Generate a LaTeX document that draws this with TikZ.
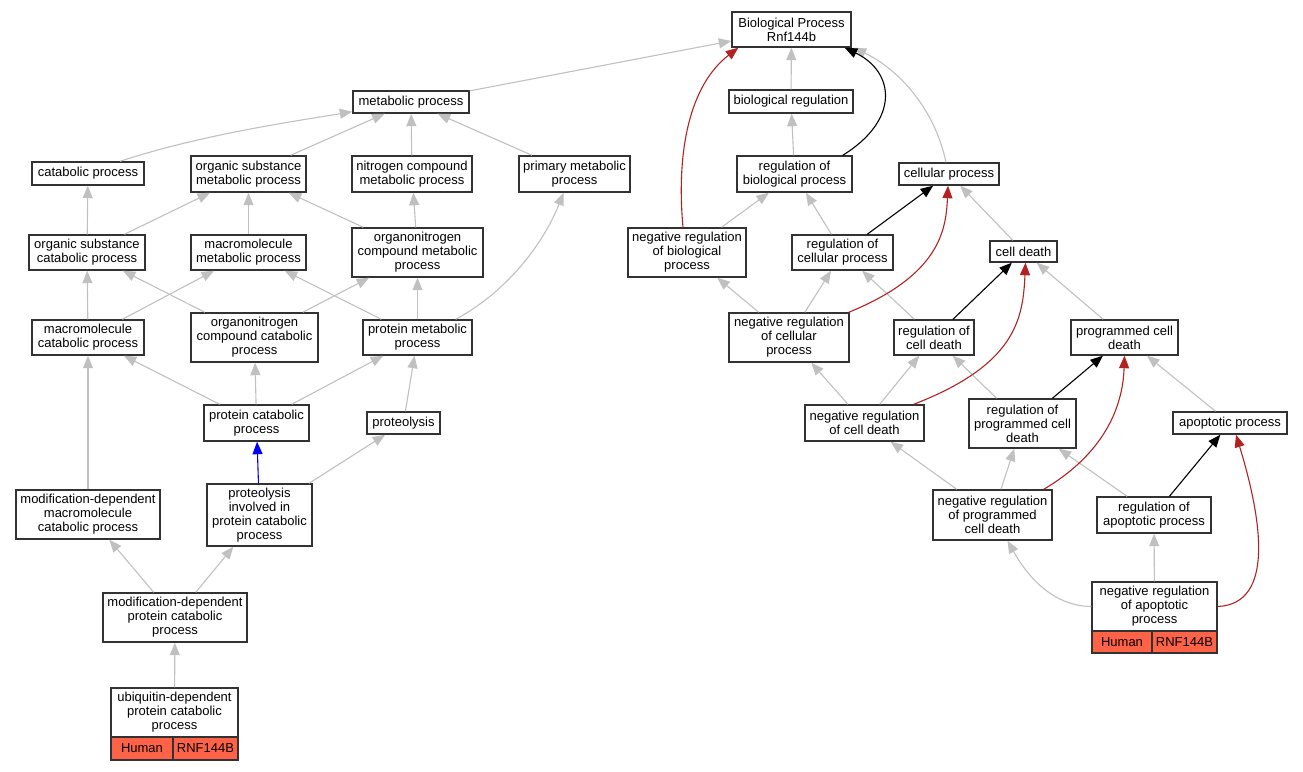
\documentclass[tikz,border=0pt]{standalone}
\usepackage{fontspec}
\setmainfont{Liberation Sans}
\usetikzlibrary{arrows.meta,calc}
\definecolor{edgegray}{RGB}{192,192,192}
\definecolor{fire}{RGB}{178,34,34}
\definecolor{tomatoc}{RGB}{255,99,71}
\definecolor{boxline}{RGB}{50,50,50}
\newcommand{\gobox}[7][]{%
  \pgfmathsetmacro{\gbw}{#5-#3}\pgfmathsetmacro{\gbh}{#6-#4}%
  \node[gobox,#1,minimum width=\gbw pt,minimum height=\gbh pt] (#2) at ({(#3+#5)/2},{(#4+#6)/2}) {#7};}
\begin{document}
\begin{tikzpicture}[x=1pt,y=-1pt,
  gobox/.style={draw=boxline,line width=1.4pt,fill=white,inner sep=0pt,align=center,
    font=\fontsize{13}{14}\selectfont},
  genecell/.style={fill=tomatoc},
  e/.style={line width=1.1pt,-{Triangle[length=12.5pt,width=10pt]}},
  gr/.style={e,draw=edgegray,-{Triangle[length=12.5pt,width=10pt,fill=edgegray]}},
  bl/.style={e,draw=black},
  rd/.style={e,draw=fire,-{Triangle[length=12.5pt,width=10pt,fill=fire]}},
  bu/.style={e,draw=blue,-{Triangle[length=12.5pt,width=10pt,fill=blue]}}]
\useasboundingbox (0,0) rectangle (1303,771);
% nodes
\gobox{bp}{732}{12}{851}{47}{Biological Process\\Rnf144b}
\gobox{met}{353}{91}{469}{113}{metabolic process}
\gobox{breg}{729}{90}{853}{113}{biological regulation}
\gobox{cat}{32}{162}{144}{185}{catabolic process}
\gobox{osm}{191}{156}{306}{192}{organic substance\\metabolic process}
\gobox{ncm}{352}{156}{472}{192}{nitrogen compound\\metabolic process}
\gobox{pmet}{519}{156}{630}{192}{primary metabolic\\process}
\gobox{rbp}{737}{156}{852}{192}{regulation of\\biological process}
\gobox{cp}{899}{163}{999}{185}{cellular process}
\gobox{osc}{29}{235}{145}{270}{organic substance\\catabolic process}
\gobox{mmp}{191}{235}{306}{270}{macromolecule\\metabolic process}
\gobox{oncm}{352}{228}{483}{277}{organonitrogen\\compound metabolic\\process}
\gobox{nrbp}{628}{228}{746}{277}{negative regulation\\of biological\\process}
\gobox{rcp}{792}{235}{893}{270}{regulation of\\cellular process}
\gobox{cd}{990}{241}{1057}{262}{cell death}
\gobox{mcp}{32}{320}{144}{355}{macromolecule\\catabolic process}
\gobox{oncc}{191}{313}{318}{362}{organonitrogen\\compound catabolic\\process}
\gobox{prm}{363}{320}{472}{355}{protein metabolic\\process}
\gobox{nrcp}{729}{313}{849}{362}{negative regulation\\of cellular\\process}
\gobox{rcd}{894}{320}{974}{355}{regulation of\\cell death}
\gobox{pcd}{1071}{320}{1178}{355}{programmed cell\\death}
\gobox{prc}{204}{405}{309}{441}{protein catabolic\\process}
\gobox{prt}{367}{412}{440}{434}{proteolysis}
\gobox{nrcd}{805}{405}{924}{441}{negative regulation\\of cell death}
\gobox{rpcd}{969}{399}{1076}{448}{regulation of\\programmed cell\\death}
\gobox{ap}{1173}{412}{1287}{434}{apoptotic process}
\gobox{mdmc}{16}{490}{160}{539}{modification-dependent\\macromolecule\\catabolic process}
\gobox{pipc}{207}{484}{312}{546}{proteolysis\\involved in\\protein catabolic\\process}
\gobox{nrpcd}{933}{490}{1052}{540}{negative regulation\\of programmed\\cell death}
\gobox{rap}{1097}{497}{1211}{533}{regulation of\\apoptotic process}
\gobox{mdpc}{103}{593}{247}{642}{modification-dependent\\protein catabolic\\process}
\gobox{nrap}{1092}{582}{1217}{631}{negative regulation\\of apoptotic\\process}
\gobox[genecell]{nrapH}{1092}{631}{1152}{653}{Human}
\gobox[genecell]{nrapG}{1152}{631}{1217}{653}{RNF144B}
\gobox{ubq}{111}{688}{238}{737}{ubiquitin-dependent\\protein catabolic\\process}
\gobox[genecell]{ubqH}{111}{737}{173}{760}{Human}
\gobox[genecell]{ubqG}{173}{737}{238}{760}{RNF144B}
% gray edges
\draw[gr] (met) -- (bp);
\draw[gr] (breg) -- (bp);
\draw[gr] ($(cp.north)+(-3,0)$) .. controls (935,110) and (900,70) .. ($(bp.south east)+(2,0)$);
\draw[gr] ($(cat.north)+(32,0)$) .. controls (200,135) and (290,122) .. ($(met.south west)+(0,-2)$);
\draw[gr] (osm) -- (met);
\draw[gr] (ncm) -- (met);
\draw[gr] (pmet) -- (met);
\draw[gr] (rbp) -- (breg);
\draw[gr] (osc) -- (cat);
\draw[gr] (osc) -- (osm);
\draw[gr] (mmp) -- (osm);
\draw[gr] (oncm) -- (osm);
\draw[gr] (oncm) -- (ncm);
\draw[gr] ($(prm.north east)+(-17,0)$) .. controls (510,290) and (545,240) .. ($(pmet.south)+(-11,0)$);
\draw[gr] (nrbp) -- (rbp);
\draw[gr] (rcp) -- (rbp);
\draw[gr] (cd) -- (cp);
\draw[gr] (mcp) -- (osc);
\draw[gr] (mcp) -- (mmp);
\draw[gr] (oncc) -- (osc);
\draw[gr] (oncc) -- (oncm);
\draw[gr] (prm) -- (mmp);
\draw[gr] (prm) -- (oncm);
\draw[gr] (nrcp) -- (nrbp);
\draw[gr] (nrcp) -- (rcp);
\draw[gr] (rcd) -- (rcp);
\draw[gr] (pcd) -- (cd);
\draw[gr] (prc) -- (mcp);
\draw[gr] (prc) -- (oncc);
\draw[gr] (prc) -- (prm);
\draw[gr] (prt) -- (prm);
\draw[gr] (nrcd) -- (nrcp);
\draw[gr] (nrcd) -- (rcd);
\draw[gr] (rpcd) -- (rcd);
\draw[gr] (ap) -- (pcd);
\draw[gr] (mdmc) -- (mcp);
\draw[gr] (pipc) -- (prt);
\draw[gr] (nrpcd) -- (nrcd);
\draw[gr] (nrpcd) -- (rpcd);
\draw[gr] (rap) -- (rpcd);
\draw[gr] (mdpc) -- (mdmc);
\draw[gr] (mdpc) -- (pipc);
\draw[gr] (nrap.west) .. controls (1050,606) and (1025,572) .. ($(nrpcd.south)+(15,0)$);
\draw[gr] (nrap) -- (rap);
\draw[gr] (ubq) -- (mdpc);
% blue
\draw[bu] (pipc) -- (prc);
% black
\draw[bl] ($(rbp.north east)+(-10,0)$) .. controls (900,120) and (895,72) .. ($(bp.south east)+(-7,0)$);
\draw[bl] (rcp) -- (cp);
\draw[bl] (rcd) -- (cd);
\draw[bl] (rpcd) -- (pcd);
\draw[bl] (rap) -- (ap);
% red
\draw[rd] ($(nrbp.north)+(-4,0)$) .. controls (676,150) and (690,85) .. ($(bp.south west)+(7,0)$);
\draw[rd] ($(nrcp.north east)+(-1,0)$) .. controls (940,275) and (946,230) .. ($(cp.south)+(-1,0)$);
\draw[rd] ($(nrcd.north east)+(-11,0)$) .. controls (1015,365) and (1023,320) .. ($(cd.south)+(2,0)$);
\draw[rd] ($(nrpcd.north east)+(-9,0)$) .. controls (1110,450) and (1123,400) .. (pcd.south);
\draw[rd] (nrap.east) .. controls (1275,604) and (1262,520) .. ($(ap.south)+(6,0)$);
\end{tikzpicture}
\end{document}
